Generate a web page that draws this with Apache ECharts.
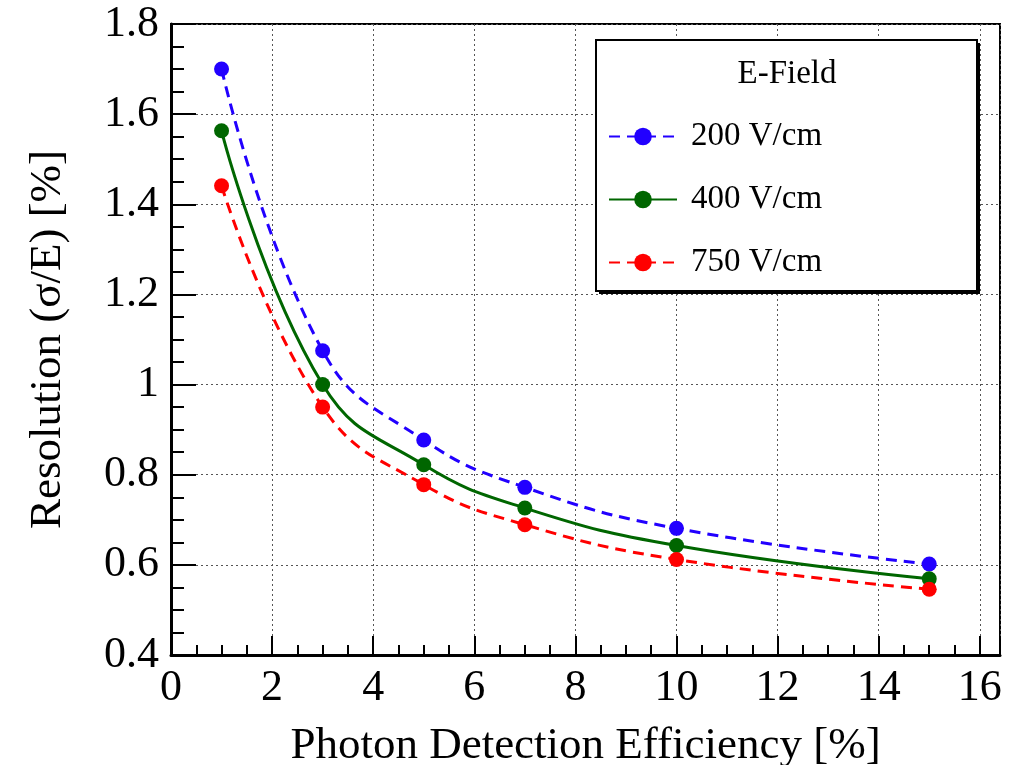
<!DOCTYPE html>
<html>
<head>
<meta charset="utf-8">
<script src="https://cdn.jsdelivr.net/npm/echarts@6/dist/echarts.min.js"></script>
<style>
html,body{margin:0;padding:0;background:#fff;overflow:hidden;}
#chart{width:1017px;height:765px;}
</style>
</head>
<body>
<div id="chart"></div>
<script>
var pde = [1, 3, 5, 7, 10, 15];
var res200 = [1.700, 1.075, 0.877, 0.772, 0.681, 0.602];
var res400 = [1.563, 1.000, 0.822, 0.726, 0.643, 0.569];
var res750 = [1.441, 0.950, 0.778, 0.689, 0.612, 0.546];
var seriesNames = ['200 V/cm', '400 V/cm', '750 V/cm'];
var xTitle = 'Photon Detection Efficiency [%]';
var yTitle = 'Resolution (σ/E) [%]';
var legendHeader = 'E-Field';

function pairs(xs, ys) { return xs.map(function (x, i) { return [x, ys[i]]; }); }

var FONT = 'Liberation Serif';
var chart = echarts.init(document.getElementById('chart'), null, {renderer: 'canvas', width: 1017, height: 765});

function mkSeries(name, ys, color, type) {
  return {
    name: name,
    type: 'line',
    data: pairs(pde, ys),
    smooth: 0.45,
    symbol: 'circle',
    symbolSize: 15,
    showSymbol: true,
    itemStyle: {color: color},
    lineStyle: {color: color, width: 3, type: type},
    z: 5
  };
}

chart.setOption({
  animation: false,
  backgroundColor: '#fff',
  textStyle: {fontFamily: FONT},
  grid: {left: 171, right: 17, top: 24, bottom: 110, outerBoundsMode: 'none', containLabel: false,
    show: true, borderColor: '#000', borderWidth: 2, backgroundColor: 'transparent'},
  xAxis: {
    type: 'value', min: 0, max: 16.4, interval: 2,
    name: xTitle, nameLocation: 'middle', nameGap: 69,
    nameTextStyle: {fontFamily: FONT, fontSize: 45, color: '#000'},
    axisLine: {show: true, onZero: false, lineStyle: {color: '#000', width: 3}},
    axisTick: {show: true, inside: true, length: 19, lineStyle: {color: '#000', width: 2}},
    minorTick: {show: true, splitNumber: 4, length: 10, lineStyle: {color: '#000', width: 2}},
    axisLabel: {fontFamily: FONT, fontSize: 44, color: '#000', margin: 11,
      formatter: function (v) { return (Math.abs(v / 2 - Math.round(v / 2)) < 1e-6) ? String(v) : ''; }},
    splitLine: {show: true, lineStyle: {color: '#555', width: 1, type: [2, 3]}},
    minorSplitLine: {show: false}
  },
  yAxis: {
    type: 'value', min: 0.4, max: 1.8, interval: 0.2,
    name: yTitle, nameLocation: 'middle', nameGap: 100, nameRotate: 90,
    nameTextStyle: {fontFamily: FONT, fontSize: 45, color: '#000'},
    axisLine: {show: true, onZero: false, lineStyle: {color: '#000', width: 3}},
    axisTick: {show: true, inside: true, length: 25, lineStyle: {color: '#000', width: 2}},
    minorTick: {show: true, splitNumber: 4, length: 13, lineStyle: {color: '#000', width: 2}},
    axisLabel: {fontFamily: FONT, fontSize: 44, color: '#000', margin: 12},
    splitLine: {show: true, lineStyle: {color: '#555', width: 1, type: [2, 3]}}
  },
  legend: {
    show: true, orient: 'vertical', left: 608, top: 120, padding: 0,
    itemWidth: 68, itemHeight: 22, itemGap: 30, z: 10,
    data: seriesNames,
    textStyle: {fontFamily: FONT, fontSize: 33, color: '#000', lineHeight: 33, padding: [0, 0, 0, 9]}
  },
  graphic: [
    {type: 'rect', z: 3, shape: {x: 599, y: 43, width: 381, height: 251}, style: {fill: '#000'}},
    {type: 'rect', z: 4, shape: {x: 596, y: 40, width: 381, height: 251}, style: {fill: '#fff', stroke: '#000', lineWidth: 2}},
    {type: 'text', z: 5, x: 787, y: 74, style: {text: legendHeader, font: '33px "' + FONT + '"', fill: '#000', align: 'center', verticalAlign: 'middle'}}
  ],
  series: [
    mkSeries(seriesNames[0], res200, '#2200ff', [11, 7]),
    mkSeries(seriesNames[1], res400, '#006600', 'solid'),
    mkSeries(seriesNames[2], res750, '#ff0000', [11, 7])
  ]
});
</script>
</body>
</html>
